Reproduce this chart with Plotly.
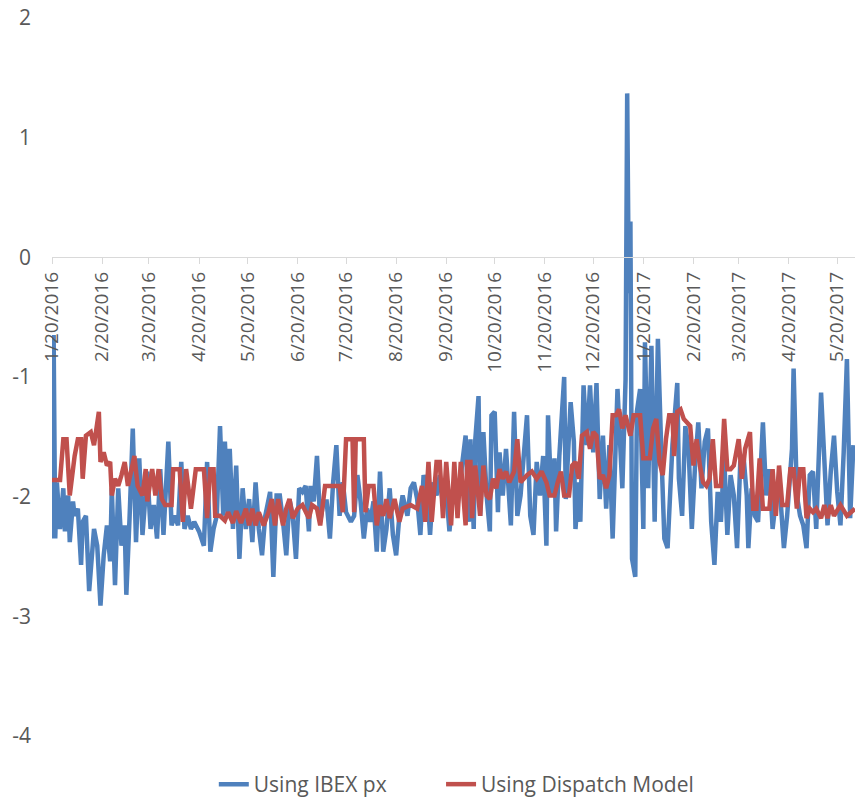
import pandas as pd
import plotly.graph_objects as go

START = pd.Timestamp("2016-01-20")

# blue series: day offset from 1/20/2016 and value
IBEX_DAY = [0, 1, 2, 3, 5, 7, 8, 10, 11, 13, 14, 16, 18, 19, 21, 23, 26, 28, 30, 32,
            34, 36, 37, 39, 41, 43, 45, 46, 48, 50, 52, 54, 56, 59, 61, 63, 65, 67, 69, 72,
            74, 76, 78, 80, 82, 84, 86, 88, 91, 94, 96, 98, 100, 102, 104, 106, 107, 109, 110, 112,
            114, 116, 118, 120, 122, 124, 126, 128, 130, 132, 135, 137, 139, 141, 143, 145, 147, 149, 151, 153,
            155, 157, 159, 160, 162, 164, 166, 168, 170, 172, 174, 176, 178, 180, 182, 185, 187, 189, 191, 193,
            195, 197, 199, 201, 203, 205, 207, 209, 211, 213, 215, 217, 220, 222, 224, 226, 228, 230, 232, 234,
            236, 238, 240, 242, 244, 246, 248, 251, 254, 256, 258, 259, 261, 262, 264, 265, 267, 269, 271, 272,
            274, 276, 277, 279, 281, 284, 286, 288, 290, 292, 294, 296, 298, 300, 302, 304, 306, 307, 309, 311,
            312, 314, 317, 318, 321, 323, 324, 326, 327, 329, 331, 333, 335, 337, 339, 341, 343, 345, 347, 350,
            353, 355, 356, 357, 358, 359, 361, 362, 364, 366, 367, 369, 371, 373, 375, 377, 379, 381, 384, 387,
            388, 390, 392, 394, 396, 398, 400, 402, 404, 406, 408, 410, 412, 414, 416, 418, 420, 422, 424, 426,
            428, 430, 431, 433, 435, 437, 440, 442, 444, 446, 449, 451, 453, 455, 458, 459, 461, 463, 465, 467,
            469, 471, 473, 476, 478, 480, 482, 484, 486, 488, 490, 492, 494, 496]
IBEX_VAL = [-2.35, -0.65, -2.35, -1.88, -2.27, -1.93, -2.29, -1.99, -2.38, -2.04, -2.16, -2.10, -2.57, -2.21, -2.16, -2.79, -2.27, -2.41, -2.91, -2.49,
            -2.24, -2.54, -1.93, -2.74, -1.93, -2.41, -2.24, -2.82, -2.18, -1.43, -2.38, -1.68, -2.32, -1.79, -2.27, -2.07, -2.35, -1.77, -2.32, -1.54,
            -2.24, -2.16, -2.24, -1.71, -2.27, -2.16, -2.27, -2.21, -2.29, -2.41, -1.71, -2.46, -2.27, -2.16, -1.41, -2.16, -1.54, -2.16, -1.60, -2.27,
            -1.74, -2.52, -1.93, -2.27, -2.02, -2.38, -1.88, -2.27, -2.49, -2.16, -1.96, -2.67, -1.99, -1.99, -2.21, -2.49, -2.02, -2.16, -2.52, -1.93,
            -1.96, -1.91, -2.29, -1.91, -2.04, -1.66, -2.21, -2.04, -2.04, -2.35, -1.88, -1.57, -2.16, -1.88, -2.13, -2.21, -2.16, -1.82, -2.04, -2.35,
            -2.10, -2.21, -2.04, -2.46, -1.79, -2.46, -2.27, -1.93, -2.32, -2.49, -2.16, -1.99, -2.16, -1.93, -1.88, -2.02, -2.32, -1.82, -1.91, -2.32,
            -1.88, -1.99, -1.82, -2.07, -1.96, -2.29, -1.99, -2.07, -1.71, -1.49, -2.21, -1.52, -2.27, -1.52, -1.16, -2.16, -1.46, -1.99, -2.29, -1.32,
            -1.29, -2.13, -1.63, -1.99, -1.60, -2.24, -1.29, -2.16, -1.99, -1.63, -1.32, -2.16, -2.32, -1.71, -1.99, -1.66, -2.41, -1.32, -1.99, -1.68,
            -2.29, -1.66, -1.00, -2.02, -1.21, -1.54, -2.27, -1.88, -2.21, -1.07, -1.57, -1.07, -1.63, -1.05, -2.02, -1.49, -2.10, -1.57, -2.35, -1.10,
            -1.93, -1.02, 1.37, -0.30, 0.30, -2.52, -2.67, -1.29, -1.10, -2.27, -0.71, -1.93, -0.74, -2.21, -0.68, -1.57, -2.35, -2.43, -1.57, -1.05,
            -1.85, -2.16, -1.41, -1.60, -2.27, -1.74, -1.38, -1.93, -1.54, -1.43, -2.21, -2.57, -1.96, -2.21, -1.66, -2.32, -1.82, -1.99, -2.43, -1.71,
            -1.66, -1.99, -2.43, -1.93, -2.16, -2.21, -1.38, -1.99, -1.77, -2.27, -1.91, -2.04, -2.43, -2.16, -1.60, -0.93, -1.99, -2.16, -2.24, -2.43,
            -1.82, -1.79, -2.27, -1.13, -1.77, -2.24, -1.79, -1.49, -1.96, -2.24, -1.63, -0.85, -2.18, -1.57]

# red series
DISP_DAY = [0, 5, 7, 9, 11, 14, 16, 18, 19, 21, 24, 26, 29, 30, 32, 34, 36, 37, 39, 41,
            43, 45, 47, 51, 53, 56, 58, 59, 62, 64, 66, 68, 70, 74, 75, 79, 81, 83, 86, 89,
            94, 96, 98, 100, 101, 104, 107, 109, 112, 114, 117, 120, 122, 124, 126, 128, 131, 134, 136, 138,
            140, 143, 145, 147, 149, 152, 155, 159, 161, 164, 166, 169, 178, 180, 182, 186, 187, 188, 193, 194,
            196, 199, 201, 203, 205, 207, 209, 212, 215, 217, 222, 226, 229, 231, 233, 235, 238, 240, 242, 244,
            247, 249, 251, 253, 256, 257, 259, 260, 262, 265, 267, 269, 271, 273, 275, 277, 279, 281, 283, 286,
            288, 290, 292, 294, 297, 300, 303, 306, 308, 311, 313, 315, 317, 320, 322, 324, 326, 328, 331, 333,
            335, 337, 339, 341, 343, 345, 347, 349, 351, 353, 355, 358, 360, 364, 366, 370, 372, 374, 376, 378,
            380, 382, 384, 385, 387, 389, 391, 393, 395, 397, 399, 401, 403, 405, 407, 409, 411, 414, 416, 418,
            420, 422, 425, 427, 429, 432, 434, 436, 438, 440, 444, 446, 448, 450, 452, 455, 457, 459, 461, 463,
            465, 467, 469, 471, 473, 476, 478, 480, 482, 484, 488, 492, 497]
DISP_VAL = [-1.86, -1.86, -1.52, -1.52, -1.99, -1.66, -1.52, -1.52, -1.85, -1.49, -1.46, -1.57, -1.29, -1.71, -1.63, -1.74, -1.71, -1.99, -1.85, -1.91,
            -1.82, -1.71, -1.91, -1.66, -1.91, -1.99, -1.77, -2.04, -1.77, -1.99, -1.77, -2.02, -2.07, -2.07, -1.77, -1.77, -2.21, -1.77, -2.10, -1.77,
            -1.77, -2.18, -1.77, -1.77, -2.16, -2.16, -2.20, -2.13, -2.22, -2.12, -2.22, -2.10, -2.24, -2.10, -2.24, -2.13, -2.24, -2.13, -2.02, -2.24,
            -2.02, -2.24, -2.10, -2.02, -2.18, -2.10, -2.07, -2.18, -2.07, -2.10, -2.24, -1.91, -1.91, -2.13, -1.52, -1.52, -2.13, -1.52, -1.52, -2.13,
            -1.91, -1.91, -2.24, -2.07, -2.16, -2.02, -2.18, -2.02, -2.21, -2.10, -2.07, -2.10, -1.91, -2.21, -1.71, -2.21, -1.71, -1.71, -2.18, -1.71,
            -2.24, -1.71, -2.18, -1.71, -2.24, -1.71, -1.71, -2.18, -1.74, -2.16, -1.74, -1.99, -2.02, -1.85, -1.93, -1.77, -1.85, -1.79, -1.88, -1.79,
            -1.52, -1.88, -1.85, -1.82, -1.79, -1.85, -1.79, -1.88, -1.99, -1.99, -1.88, -1.79, -1.99, -1.99, -1.74, -1.71, -1.85, -1.49, -1.46, -1.60,
            -1.46, -1.49, -1.85, -1.82, -1.93, -1.82, -1.32, -1.32, -1.27, -1.43, -1.32, -1.49, -1.32, -1.32, -1.68, -1.68, -1.43, -1.35, -1.71, -1.82,
            -1.52, -1.32, -1.32, -1.66, -1.29, -1.27, -1.35, -1.38, -1.41, -1.74, -1.52, -1.74, -1.88, -1.91, -1.85, -1.52, -1.91, -1.91, -1.35, -1.77,
            -1.77, -1.74, -1.52, -1.85, -1.60, -1.46, -2.10, -2.10, -1.68, -2.10, -2.10, -1.77, -2.16, -1.74, -2.07, -2.07, -1.77, -1.77, -2.10, -1.77,
            -1.77, -2.18, -2.10, -2.13, -2.10, -2.18, -2.07, -2.18, -2.07, -2.16, -2.07, -2.16, -2.10]

TICK_DATES = ["2016-01-20", "2016-02-20", "2016-03-20", "2016-04-20", "2016-05-20", "2016-06-20",
              "2016-07-20", "2016-08-20", "2016-09-20", "2016-10-20", "2016-11-20", "2016-12-20",
              "2017-01-20", "2017-02-20", "2017-03-20", "2017-04-20", "2017-05-20"]
TICK_LABELS = ["1/20/2016", "2/20/2016", "3/20/2016", "4/20/2016", "5/20/2016", "6/20/2016",
               "7/20/2016", "8/20/2016", "9/20/2016", "10/20/2016", "11/20/2016", "12/20/2016",
               "1/20/2017", "2/20/2017", "3/20/2017", "4/20/2017", "5/20/2017"]
Y_TICKS = [2, 1, 0, -1, -2, -3, -4]
Y_LABELS = ["2", "1", "0", "-1", "-2", "-3", "-4"]

BLUE, RED = "#4F81BD", "#C0504D"
FONT = "Open Sans"
GREY = "#595959"

ibex_x = START + pd.to_timedelta(IBEX_DAY, unit="D")
disp_x = START + pd.to_timedelta(DISP_DAY, unit="D")

fig = go.Figure()
fig.add_trace(go.Scatter(x=ibex_x, y=IBEX_VAL, mode="lines", name="Using IBEX px",
                         line=dict(color=BLUE, width=4.5), legend="legend"))
fig.add_trace(go.Scatter(x=disp_x, y=DISP_VAL, mode="lines", name="Using Dispatch Model",
                         line=dict(color=RED, width=4.5), legend="legend2"))

leg = dict(orientation="h", xanchor="left", y=-0.068, yanchor="middle",
           font=dict(family=FONT, size=21, color=GREY))
fig.update_layout(
    width=855, height=805,
    margin=dict(l=52, r=0, t=18, b=67),
    paper_bgcolor="white", plot_bgcolor="white",
    font=dict(family=FONT, size=20, color=GREY),
    showlegend=True,
    legend=dict(leg, x=0.2015),
    legend2=dict(leg, x=0.4845),
)
fig.update_xaxes(
    type="date", range=["2016-01-20", "2017-05-31"],
    anchor="free", position=4 / 6,   # x axis crosses at y = 0
    tickmode="array", tickvals=TICK_DATES, ticktext=TICK_LABELS,
    tickangle=-90, tickfont=dict(family=FONT, size=19, color=GREY),
    showline=True, linecolor="#D9D9D9", linewidth=1,
    ticks="outside", ticklen=6, tickcolor="#D9D9D9",
    showgrid=False, zeroline=False, automargin=False,
)
fig.update_yaxes(
    range=[-4, 2], tickmode="array", tickvals=Y_TICKS, ticktext=Y_LABELS,
    showgrid=False, zeroline=False, showline=False,
    tickfont=dict(family=FONT, size=21, color=GREY),
    ticklabelstandoff=20, ticklabeloverflow="allow", automargin=False,
)

# drop the default 8px page margin so the figure fills the window
fig.write_html("out.html", config={"displayModeBar": False},
               post_script="document.body.style.margin='0';")
